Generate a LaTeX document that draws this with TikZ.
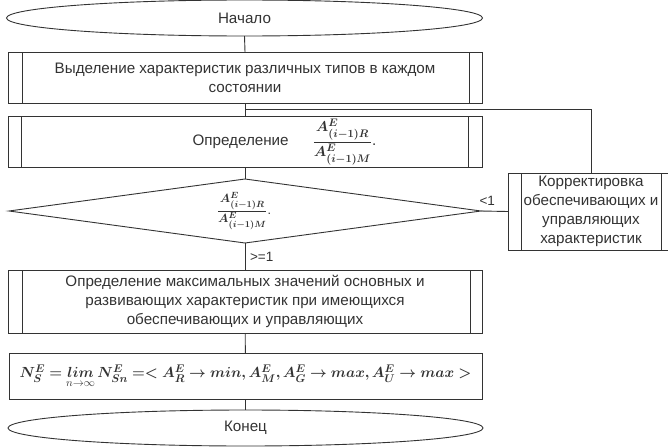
\documentclass[tikz,border=0pt]{standalone}
\usepackage{amsmath}
\usepackage{bm}
\usepackage{graphicx}
\usepackage{fontspec}
\setmainfont{Liberation Sans}
\usetikzlibrary{shapes.geometric}
\definecolor{ink}{HTML}{333333}
\newcommand{\fracRM}{\dfrac{\bm{A^{E}_{(i-1)R}}}{\bm{A^{E}_{(i-1)M}}}}
\begin{document}
\begin{tikzpicture}[x=1pt,y=-1pt,
  every node/.style={font=\fontsize{15.2}{18.8}\selectfont, text=ink, inner sep=0pt, outer sep=0pt},
  ln/.style={draw=ink, line width=0.9pt},
  term/.style={ln, ellipse, minimum width=476pt, minimum height=36pt},
  proc/.style={ln, rectangle, minimum width=474pt, align=center},
  lbl/.style={font=\fontsize{13.5}{16}\selectfont},
  mth/.style={font=\fontsize{12.5}{15}\selectfont}
]
\useasboundingbox (0,0) rectangle (668,447);

\node[term] (start) at (244.5,18) {Начало};
\node[proc, minimum height=51pt] (b1) at (245,77.5) {Выделение характеристик различных типов в каждом\\состоянии};
\node[proc, minimum height=51pt] (b2) at (245,141.5) {};
\node[mth] (b2t) at (284.5,142) {\fontsize{15.2}{18.8}\selectfont Определение\hspace{24pt}$\fracRM$.};
\node[ln, diamond, minimum width=472pt, minimum height=64pt] (dec) at (245,211) {};
\node[mth] (dect) at (244,211) {$\fracRM$.};
\node[proc, minimum width=166pt, minimum height=77pt] (korr) at (591,211.5) {Корректировка\\обеспечивающих и\\управляющих\\характеристик};
\node[proc, minimum height=63pt] (b3) at (245,301.5) {Определение максимальных значений основных и\\развивающих характеристик при имеющихся\\обеспечивающих и управляющих};
\node[proc, minimum width=473pt, minimum height=46pt] (form) at (245.5,376) {\resizebox{452pt}{!}{$\bm{N^{E}_{S} =} \mathop{\bm{lim}}\limits_{n\to\infty} \bm{N^{E}_{Sn} =< A^{E}_{R} \to min, A^{E}_{M}, A^{E}_{G} \to max, A^{E}_{U} \to max >}$}};
\node[term, minimum width=475pt] (end) at (245.5,428) {Конец};

% double side lines of process boxes
\foreach \b/\l/\r in {b1/14/13, b2/13.5/14, korr/13/13, b3/14/12}{
  \draw[ln] ([xshift=\l pt]\b.north west) -- ([xshift=\l pt]\b.south west);
  \draw[ln] ([xshift=-\r pt]\b.north east) -- ([xshift=-\r pt]\b.south east);
}

\coordinate (j) at (245,109);
\draw[ln] (start.south) -- (b1.north);
\draw[ln] (b1) -- (b2);
\draw[ln] (korr.north) |- (j);
\draw[ln] (b2) -- (dec);
\draw[ln] (dec.east) -- node[lbl, pos=0.23, above=6pt] {<1} (korr.west);
\draw[ln] (dec.south) -- node[lbl, right=5pt] {>=1} (b3.north);
\draw[ln] (b3) -- (form);
\draw[ln] (form) -- (end);
\end{tikzpicture}
\end{document}
